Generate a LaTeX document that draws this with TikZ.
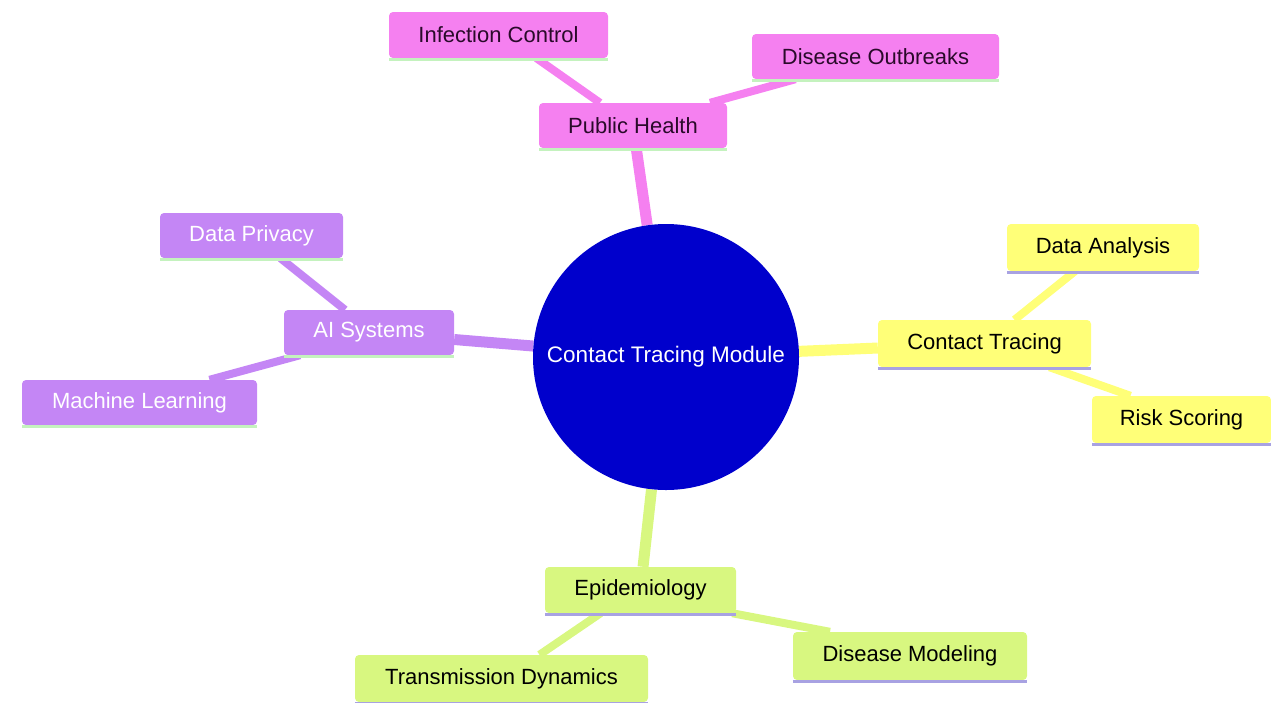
\documentclass[tikz,border=0pt]{standalone}
\usepackage{fontspec}
\setmainfont{Liberation Sans}
\usetikzlibrary{calc,backgrounds}
\definecolor{pinkc}{HTML}{F580F0}
\definecolor{purpc}{HTML}{C486F5}
\definecolor{yelc}{HTML}{FFFF78}
\definecolor{grnc}{HTML}{D8F780}
\definecolor{hubc}{HTML}{0000CC}
\definecolor{mintc}{HTML}{C4F2BE}
\definecolor{lavc}{HTML}{A8A2E2}
\definecolor{darkt}{HTML}{2A0A2A}
\tikzset{
  box/.style={rectangle, rounded corners=4pt, inner sep=0pt, font=\fontsize{22}{26}\selectfont},
  pinkbox/.style={box, fill=pinkc, text=darkt},
  purpbox/.style={box, fill=purpc, text=white},
  yelbox/.style={box, fill=yelc, text=black},
  grnbox/.style={box, fill=grnc, text=black},
  hub/.style={circle, fill=hubc, text=white, minimum size=266pt, inner sep=0pt, font=\fontsize{22.5}{26}\selectfont},
  mainline/.style={line width=11pt},
  leafline/.style={line width=8pt},
  underline/.style={line width=3pt}
}
\begin{document}
\begin{tikzpicture}[x=1pt,y=-1pt]
\useasboundingbox (0,0) rectangle (1271,702);
% hub
\node[hub] (c) at (666,357) {Contact Tracing Module};
% public health
\node[pinkbox, minimum width=188pt, minimum height=45pt] (ph) at (633,125.5) {Public Health};
\node[pinkbox, minimum width=219pt, minimum height=46pt] (ic) at (498.5,35) {Infection Control};
\node[pinkbox, minimum width=247pt, minimum height=45pt] (do) at (875.5,56.5) {Disease Outbreaks};
% AI systems
\node[purpbox, minimum width=170pt, minimum height=45pt] (ai) at (369,332.5) {AI Systems};
\node[purpbox, minimum width=183pt, minimum height=45pt] (dp) at (251.5,235.5) {Data Privacy};
\node[purpbox, minimum width=235pt, minimum height=45pt] (ml) at (139.5,402.5) {Machine Learning};
% contact tracing
\node[yelbox, minimum width=213pt, minimum height=47pt] (ct) at (984.5,343.5) {Contact Tracing};
\node[yelbox, minimum width=192pt, minimum height=47pt] (da) at (1103,247.5) {Data Analysis};
\node[yelbox, minimum width=179pt, minimum height=47pt] (rs) at (1181.5,419.5) {Risk Scoring};
% epidemiology
\node[grnbox, minimum width=191pt, minimum height=46pt] (ep) at (640.5,590) {Epidemiology};
\node[grnbox, minimum width=293pt, minimum height=47pt] (td) at (501.5,678.5) {Transmission Dynamics};
\node[grnbox, minimum width=234pt, minimum height=48pt] (dm) at (910,656) {Disease Modeling};
% bottom borders
\foreach \n in {ph,ic,do,ai,dp,ml}{
  \draw[underline, mintc] ([yshift=-1.5pt]\n.south west) -- ([yshift=-1.5pt]\n.south east);
}
\foreach \n in {ct,da,rs,ep,td,dm}{
  \draw[underline, lavc] ([yshift=-1.5pt]\n.south west) -- ([yshift=-1.5pt]\n.south east);
}
\begin{scope}[on background layer]
  \draw[mainline, pinkc] (c) -- (ph);
  \draw[mainline, purpc] (c) -- (ai);
  \draw[mainline, yelc] (c) -- (ct);
  \draw[mainline, grnc] (c) -- (ep);
  \draw[leafline, pinkc] ($(ic.south)+(38,0)$) -- ($(ph.north)+(-33,0)$);
  \draw[leafline, pinkc] ($(ph.north)+(77,0)$) -- ($(do.south)+(-80,0)$);
  \draw[leafline, purpc] ($(dp.south)+(29,0)$) -- ($(ai.north)+(-24,0)$);
  \draw[leafline, purpc] ($(ml.north)+(70,0)$) -- ($(ai.south)+(-69,0)$);
  \draw[leafline, yelc] ($(da.south)+(-28,0)$) -- ($(ct.north)+(30,0)$);
  \draw[leafline, yelc] ($(ct.south)+(65,0)$) -- ($(rs.north)+(-51,0)$);
  \draw[leafline, grnc] ($(ep.south)+(-40,0)$) -- ($(td.north)+(38,0)$);
  \draw[leafline, grnc] ($(ep.south east)+(-4,0)$) -- ($(dm.north)+(-80,0)$);
\end{scope}
\end{tikzpicture}
\end{document}
